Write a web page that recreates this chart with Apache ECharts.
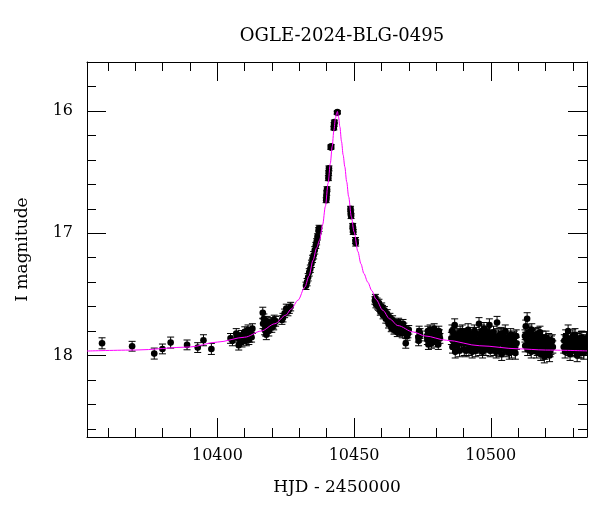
<!DOCTYPE html>
<html>
<head>
<meta charset="utf-8">
<script src="https://cdn.jsdelivr.net/npm/echarts@6/dist/echarts.min.js"></script>
<style>html,body{margin:0;padding:0;background:#fff;}#c{width:600px;height:512px;}</style>
</head>
<body>
<div id="c"></div>
<script>
// ---- data ----
const titleText = 'OGLE-2024-BLG-0495';
const xName = 'HJD - 2450000';
const yName = 'I magnitude';
const xMin = 10352.3, xMax = 10535.2;
const yMin = 15.6, yMax = 18.666;

const hjd = [
 10357.8,10368.8,10376.9,10379.9,10382.9,10388.9,10392.8,10394.9,10397.8,
 10404.8,10406.9,10407.8,10408.3,10408.8,10409.5,10410.0,10410.6,10411.2,10411.8,10412.2,10412.8,
 10416.6,10416.7,10417.0,10417.3,10417.9,10418.5,10419.1,10419.6,10420.3,10420.8,10421.3,
 10423.6,10424.0,10424.6,10425.2,10425.8,10426.3,10426.8,
 10432.4,10432.8,10433.2,10433.6,10434.0,10434.4,10434.8,10435.2,10435.6,10436.0,10436.3,10436.6,10437.0,10437.2,
 10439.8,10439.9,10440.0,10440.1,10440.6,10440.7,10440.8,10441.5,10441.6,10442.6,10442.7,10442.8,10443.8,10443.9,
 10448.7,10448.8,10448.9,10449.5,10449.6,10449.7,10450.5,10450.6,
 10457.6,10458.0,10458.4,10458.9,10459.4,10459.9,10460.4,10460.9,10461.4,10461.9,10462.4,10462.9,10463.4,10463.9,10464.4,10464.9,10465.5,10466.0,10466.7,10467.4,10467.9,10468.5,10468.9,10469.2,10469.7,
 10473.5,10473.8,10474.1,10476.6,10477.0,10477.5,10478.0,10478.5,10479.0,10479.5,10480.0,10480.5,10481.0,10481.4,
 10485.8,10486.2,10486.8,10487.3,10487.8,10488.3,10488.8,10489.3,10489.8,10490.3,10490.8,10491.3,10491.7,10492.2,10492.7,10493.2,10493.7,10494.2,10494.7,10495.2,10495.7,10496.2,10496.7,10497.2,10497.7,10498.2,10498.7,10499.2,10499.5,10500.0,10500.5,10501.0,10501.5,10502.0,10502.3,10502.8,10503.3,10503.8,10504.3,10504.8,10505.3,10505.8,10506.3,10506.8,10507.3,10507.8,10508.3,10508.8,10509.3,
 10512.5,10512.8,10513.3,10513.7,10514.1,10514.6,10515.0,10515.5,10516.0,10516.5,10517.0,10517.5,10518.0,10518.5,10519.0,10519.8,10520.2,10520.7,10521.2,10521.7,10522.2,10522.7,
 10526.9,10527.4,10528.0,10528.3,10528.8,10529.3,10529.8,10530.3,10530.8,10531.3,10531.8,10532.3,10532.8,10533.3,10533.8,10534.3,10534.8,10535.1,
 // further points in the dense clusters
 10405.5,10407.2,10409.0,10410.3,10411.5,10412.5,
 10417.6,10418.2,10418.8,10419.9,10420.6,
 10457.8,10458.6,10459.1,10459.6,10460.1,10460.6,10461.1,10461.6,10462.1,10462.6,10463.1,10463.6,10464.1,10464.6,10465.2,10465.8,10466.3,10467.0,10467.6,10468.2,10469.4,10470.0,
 10473.6,10474.0,10476.8,10477.2,10477.8,10478.3,10478.8,10479.3,10479.8,10480.2,10480.8,10481.2,
 10485.6,10486.0,10486.5,10487.0,10487.5,10488.0,10488.6,10489.0,10489.6,10490.0,10490.6,10491.0,10491.5,10492.0,10492.5,10493.0,10493.5,10494.0,10494.5,10495.0,10495.5,10496.0,10496.5,10497.0,10497.5,10498.0,10498.5,10499.0,10499.8,10500.3,10500.8,10501.3,10501.8,10502.5,10503.0,10503.5,10504.0,10504.6,10505.0,10505.6,10506.0,10506.6,10507.0,10507.6,10508.0,10508.6,10509.0,10509.4,
 10512.6,10513.0,10513.5,10513.9,10514.4,10514.8,10515.3,10515.8,10516.2,10516.8,10517.3,10517.8,10518.3,10518.8,10519.3,10519.6,10520.0,10520.5,10521.0,10521.5,10522.0,10522.5,
 10526.7,10527.2,10527.7,10528.5,10529.0,10529.6,10530.0,10530.6,10531.0,10531.6,10532.0,10532.6,10533.0,10533.6,10534.0,10534.6,10535.0
];
const mag = [
 17.90,17.924,17.984,17.946,17.894,17.913,17.935,17.875,17.946,
 17.86,17.82,17.915,17.87,17.835,17.86,17.805,17.88,17.79,17.85,17.82,17.78,
 17.65,17.74,17.70,17.79,17.83,17.76,17.77,17.73,17.74,17.71,17.72,
 17.71,17.69,17.655,17.615,17.64,17.62,17.60,
 17.43,17.40,17.36,17.32,17.29,17.25,17.21,17.18,17.14,17.10,17.07,17.03,16.98,16.96,
 16.73,16.70,16.67,16.64,16.55,16.51,16.47,16.30,16.29,16.14,16.11,16.09,16.015,16.01,
 16.80,16.83,16.86,16.94,16.97,16.99,17.06,17.08,
 17.55,17.58,17.56,17.60,17.61,17.63,17.62,17.65,17.66,17.68,17.70,17.73,17.72,17.76,17.75,17.78,17.74,17.77,17.80,17.76,17.74,17.80,17.90,17.79,17.82,
 17.85,17.80,17.82,17.84,17.80,17.88,17.83,17.86,17.81,17.87,17.82,17.85,17.80,17.86,
 17.80,17.88,17.75,17.84,17.92,17.86,17.81,17.90,17.85,17.95,17.83,17.88,17.79,17.91,17.86,17.97,17.84,17.89,17.82,17.93,17.74,17.87,17.80,17.91,17.85,17.95,17.83,17.89,17.75,17.86,17.93,17.81,17.88,17.97,17.73,17.84,17.90,17.82,17.87,17.94,17.80,17.89,17.85,17.98,17.83,17.91,17.86,17.94,17.84,
 17.84,17.76,17.70,17.88,17.82,17.92,17.79,17.86,17.90,17.83,17.95,17.87,17.81,17.93,17.88,17.98,17.85,17.91,17.87,17.96,17.89,17.93,
 17.88,17.84,17.92,17.80,17.90,17.86,17.95,17.88,17.83,17.93,17.87,17.97,17.89,17.85,17.94,17.90,17.88,17.93,
 17.88,17.85,17.89,17.84,17.87,17.85,
 17.80,17.72,17.80,17.77,17.75,
 17.53,17.59,17.57,17.64,17.60,17.67,17.63,17.70,17.66,17.74,17.69,17.77,17.71,17.79,17.76,17.81,17.73,17.78,17.82,17.77,17.84,17.79,
 17.88,17.84,17.87,17.91,17.79,17.90,17.84,17.78,17.89,17.86,17.91,17.83,
 17.86,17.93,17.82,17.97,17.89,17.83,17.96,17.87,17.80,17.90,17.87,17.96,17.84,17.95,17.82,17.89,17.93,17.80,17.96,17.87,17.90,17.95,17.84,17.97,17.78,17.88,17.92,17.81,17.96,17.84,17.90,17.95,17.85,17.91,17.96,17.86,17.99,17.83,17.92,17.96,17.88,17.93,17.87,17.97,17.90,17.85,17.98,17.90,
 17.92,17.86,17.95,17.81,17.89,17.97,17.84,17.93,17.88,17.97,17.82,17.91,17.99,17.85,17.94,18.01,17.90,17.96,17.92,18.00,17.94,17.88,
 17.93,17.97,17.87,17.95,17.99,17.91,17.84,17.96,17.90,18.00,17.92,17.86,17.97,17.91,17.98,17.93,17.86
];
const magErr = [
 0.045,0.04,0.045,0.04,0.045,0.04,0.04,0.045,0.045,
 0.04,0.04,0.04,0.04,0.04,0.04,0.04,0.04,0.04,0.04,0.04,0.04,
 0.045,0.04,0.04,0.04,0.04,0.04,0.04,0.04,0.04,0.04,0.04,
 0.035,0.035,0.035,0.035,0.035,0.035,0.035,
 0.03,0.03,0.03,0.03,0.03,0.03,0.03,0.03,0.03,0.025,0.025,0.025,0.025,0.025,
 0.02,0.02,0.02,0.02,0.02,0.02,0.02,0.015,0.015,0.015,0.015,0.015,0.012,0.012,
 0.02,0.02,0.02,0.02,0.02,0.02,0.025,0.025,
 0.03,0.03,0.03,0.03,0.03,0.03,0.03,0.03,0.03,0.035,0.035,0.035,0.035,0.035,0.035,0.035,0.035,0.035,0.035,0.035,0.035,0.035,0.04,0.035,0.035,
 0.04,0.04,0.04,0.04,0.04,0.04,0.04,0.04,0.04,0.04,0.04,0.04,0.04,0.04,
 0.05,0.05,0.05,0.05,0.05,0.05,0.05,0.05,0.05,0.05,0.05,0.05,0.05,0.05,0.05,0.05,0.05,0.05,0.05,0.05,0.05,0.05,0.05,0.05,0.05,0.05,0.05,0.05,0.05,0.05,0.05,0.05,0.05,0.05,0.05,0.05,0.05,0.05,0.05,0.05,0.05,0.05,0.05,0.05,0.05,0.05,0.05,0.05,0.05,
 0.05,0.05,0.05,0.05,0.05,0.05,0.05,0.05,0.05,0.05,0.05,0.05,0.05,0.05,0.05,0.05,0.05,0.05,0.05,0.05,0.05,0.05,
 0.05,0.05,0.05,0.05,0.05,0.05,0.05,0.05,0.05,0.05,0.05,0.05,0.05,0.05,0.05,0.05,0.05,0.05,
 0.04,0.04,0.04,0.04,0.04,0.04,
 0.04,0.04,0.04,0.04,0.04,
 0.03,0.03,0.03,0.03,0.03,0.03,0.03,0.035,0.035,0.035,0.035,0.035,0.035,0.035,0.035,0.035,0.035,0.035,0.035,0.035,0.035,0.035,
 0.04,0.04,0.04,0.04,0.04,0.04,0.04,0.04,0.04,0.04,0.04,0.04,
 0.05,0.05,0.05,0.05,0.05,0.05,0.05,0.05,0.05,0.05,0.05,0.05,0.05,0.05,0.05,0.05,0.05,0.05,0.05,0.05,0.05,0.05,0.05,0.05,0.05,0.05,0.05,0.05,0.05,0.05,0.05,0.05,0.05,0.05,0.05,0.05,0.05,0.05,0.05,0.05,0.05,0.05,0.05,0.05,0.05,0.05,0.05,0.05,
 0.05,0.05,0.05,0.05,0.05,0.05,0.05,0.05,0.05,0.05,0.05,0.05,0.05,0.05,0.05,0.05,0.05,0.05,0.05,0.05,0.05,0.05,
 0.05,0.05,0.05,0.05,0.05,0.05,0.05,0.05,0.05,0.05,0.05,0.05,0.05,0.05,0.05,0.05,0.05
];

// model curve points
const modelT = [10352.3,10370,10390,10400,10410,10416,10421,10425,10427,10429.5,10432,10433.5,10435,10436.3,10437.4,10438.5,10439.5,10440.5,10441.3,10442,10442.6,10443.2,10443.6,10443.9,10444.3,10444.8,10445.4,10446,10446.6,10447.3,10448,10449,10450,10451.4,10452.5,10453.6,10455,10456.5,10458,10460.5,10463,10466,10471.6,10476,10483.8,10496,10510,10520,10535.2];
const modelM = [17.963,17.955,17.93,17.89,17.85,17.80,17.74,17.67,17.62,17.547,17.44,17.35,17.22,17.12,17.056,16.93,16.78,16.59,16.43,16.29,16.16,16.06,16.02,16.005,16.05,16.13,16.25,16.36,16.456,16.58,16.70,16.865,16.99,17.15,17.25,17.33,17.40,17.47,17.54,17.63,17.70,17.755,17.807,17.84,17.875,17.92,17.945,17.955,17.962];

// ---- build ----
const points = hjd.map((t, i) => [t, mag[i], magErr[i]]);
const model = modelT.map((t, i) => [t, modelM[i]]);

const FONT = 'DejaVu Serif';
const chart = echarts.init(document.getElementById('c'), null, {renderer: 'canvas'});

const xCommon = {
  type: 'value', min: xMin, max: xMax, splitNumber: 4, scale: true,
  axisLine: {show: true, onZero: false, lineStyle: {color: '#000', width: 1}},
  axisTick: {show: true, inside: true, length: 19, lineStyle: {color: '#000', width: 1}},
  minorTick: {show: true, splitNumber: 5, length: 9, lineStyle: {color: '#000', width: 1}},
  splitLine: {show: false}, minorSplitLine: {show: false}
};
const yCommon = {
  type: 'value', min: yMin, max: yMax, splitNumber: 3, inverse: true, scale: true,
  axisLine: {show: true, onZero: false, lineStyle: {color: '#000', width: 1}},
  axisTick: {show: true, inside: true, length: 19, lineStyle: {color: '#000', width: 1}},
  minorTick: {show: true, splitNumber: 5, length: 9, lineStyle: {color: '#000', width: 1}},
  splitLine: {show: false}, minorSplitLine: {show: false}
};

chart.setOption({
  animation: false,
  backgroundColor: '#fff',
  title: {
    text: titleText, left: 337, top: 22, textAlign: 'center',
    textStyle: {fontFamily: FONT, fontSize: 18, fontWeight: 'normal', color: '#000'}
  },
  grid: {left: 87, right: 13, top: 62, bottom: 75, containLabel: false},
  xAxis: [
    Object.assign({}, xCommon, {
      position: 'bottom', name: xName, nameLocation: 'middle', nameGap: 42,
      nameTextStyle: {fontFamily: FONT, fontSize: 17, color: '#000'},
      axisLabel: {show: true, margin: 11, color: '#000', fontFamily: FONT, fontSize: 16,
        showMinLabel: false, showMaxLabel: false,
        formatter: v => (Math.abs(v % 50) < 1e-6 ? String(v) : '')}
    }),
    Object.assign({}, xCommon, {position: 'top', axisLabel: {show: false}})
  ],
  yAxis: [
    Object.assign({}, yCommon, {
      position: 'left', name: yName, nameLocation: 'middle', nameGap: 56, nameRotate: 90,
      nameTextStyle: {fontFamily: FONT, fontSize: 17, color: '#000'},
      axisLabel: {show: true, margin: 14, color: '#000', fontFamily: FONT, fontSize: 16,
        showMinLabel: false, showMaxLabel: false,
        formatter: v => (Math.abs(v - Math.round(v)) < 1e-6 ? String(Math.round(v)) : '')}
    }),
    Object.assign({}, yCommon, {position: 'right', axisLabel: {show: false}})
  ],
  series: [
    {
      type: 'custom', xAxisIndex: 0, yAxisIndex: 0, clip: true, z: 2,
      data: points,
      renderItem: (params, api) => {
        const t = api.value(0), m = api.value(1), e = api.value(2);
        const p = api.coord([t, m]);
        const a = api.coord([t, m - e]);
        const b = api.coord([t, m + e]);
        const cw = 3.5;
        const ls = {stroke: '#000', lineWidth: 1};
        return {type: 'group', children: [
          {type: 'line', shape: {x1: p[0], y1: a[1], x2: p[0], y2: b[1]}, style: ls},
          {type: 'line', shape: {x1: p[0] - cw, y1: a[1], x2: p[0] + cw, y2: a[1]}, style: ls},
          {type: 'line', shape: {x1: p[0] - cw, y1: b[1], x2: p[0] + cw, y2: b[1]}, style: ls},
          {type: 'circle', shape: {cx: p[0], cy: p[1], r: 3.3}, style: {fill: '#000'}}
        ]};
      }
    },
    {
      type: 'line', xAxisIndex: 0, yAxisIndex: 0, data: model, showSymbol: false, symbol: 'none',
      smooth: 0.3, smoothMonotone: 'x', clip: true, z: 3,
      lineStyle: {color: '#ff00ff', width: 1}
    }
  ]
});
</script>
</body>
</html>
